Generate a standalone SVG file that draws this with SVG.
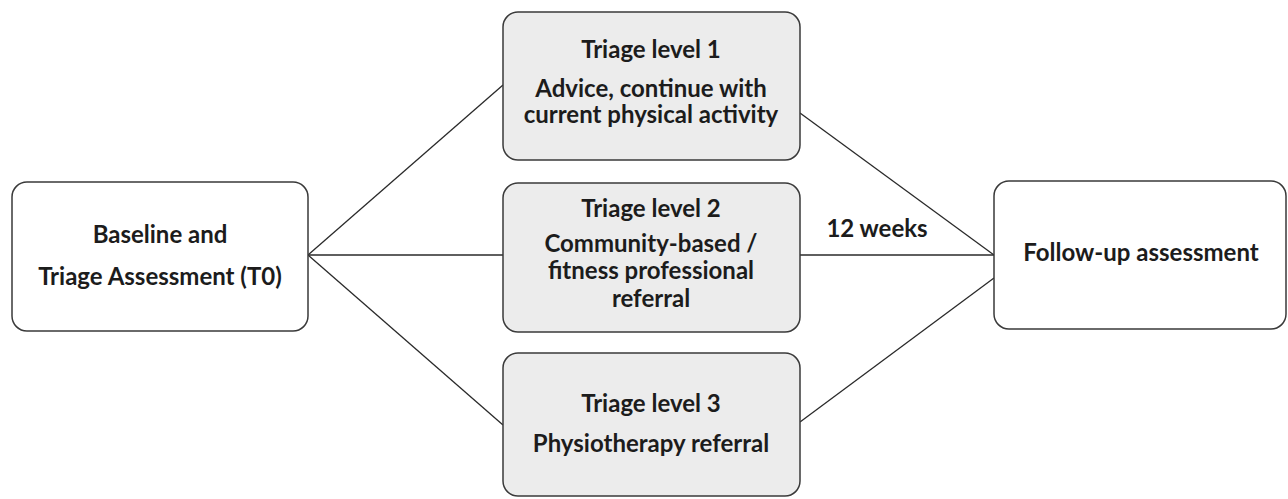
<svg xmlns="http://www.w3.org/2000/svg" width="1288" height="499" viewBox="0 0 1288 499">
<style>
.box{fill:#ffffff;stroke:#3a3a3a;stroke-width:1.5}
.grey{fill:#ececec;stroke:#3a3a3a;stroke-width:1.5}
.t{font-family:"Lato","Liberation Sans",sans-serif;font-weight:bold;font-size:24px;fill:#1c1c1c;text-anchor:middle}
.c{stroke:#2a2a2a;stroke-width:1.3;fill:none}
</style>
<rect width="1288" height="499" fill="#ffffff"/>
<g id="connectors">
<line class="c" x1="308" y1="255" x2="503" y2="85"/>
<line class="c" x1="308" y1="255" x2="503" y2="255"/>
<line class="c" x1="308" y1="255" x2="503" y2="425"/>
<line class="c" x1="800" y1="113" x2="994" y2="255"/>
<line class="c" x1="800" y1="255" x2="994" y2="255"/>
<line class="c" x1="800" y1="422" x2="994" y2="278"/>
<text class="t" x="877" y="237">12 weeks</text>
</g>
<g id="baseline">
<rect class="box" x="12" y="182" width="296" height="149" rx="15"/>
<text class="t" x="160" y="243">Baseline and</text>
<text class="t" x="160" y="285">Triage Assessment (T0)</text>
</g>
<g id="level1">
<rect class="grey" x="503" y="12" width="297" height="148" rx="15"/>
<text class="t" x="651" y="58">Triage level 1</text>
<text class="t" x="651" y="97">Advice, continue with</text>
<text class="t" x="651" y="123">current physical activity</text>
</g>
<g id="level2">
<rect class="grey" x="503" y="183" width="297" height="149" rx="15"/>
<text class="t" x="651" y="217">Triage level 2</text>
<text class="t" x="651" y="252">Community-based /</text>
<text class="t" x="651" y="279">fitness professional</text>
<text class="t" x="651" y="307">referral</text>
</g>
<g id="level3">
<rect class="grey" x="503" y="353" width="297" height="143" rx="15"/>
<text class="t" x="651" y="412">Triage level 3</text>
<text class="t" x="651" y="452">Physiotherapy referral</text>
</g>
<g id="followup">
<rect class="box" x="994" y="181" width="292" height="148" rx="15"/>
<text class="t" x="1141" y="261">Follow-up assessment</text>
</g>
</svg>
